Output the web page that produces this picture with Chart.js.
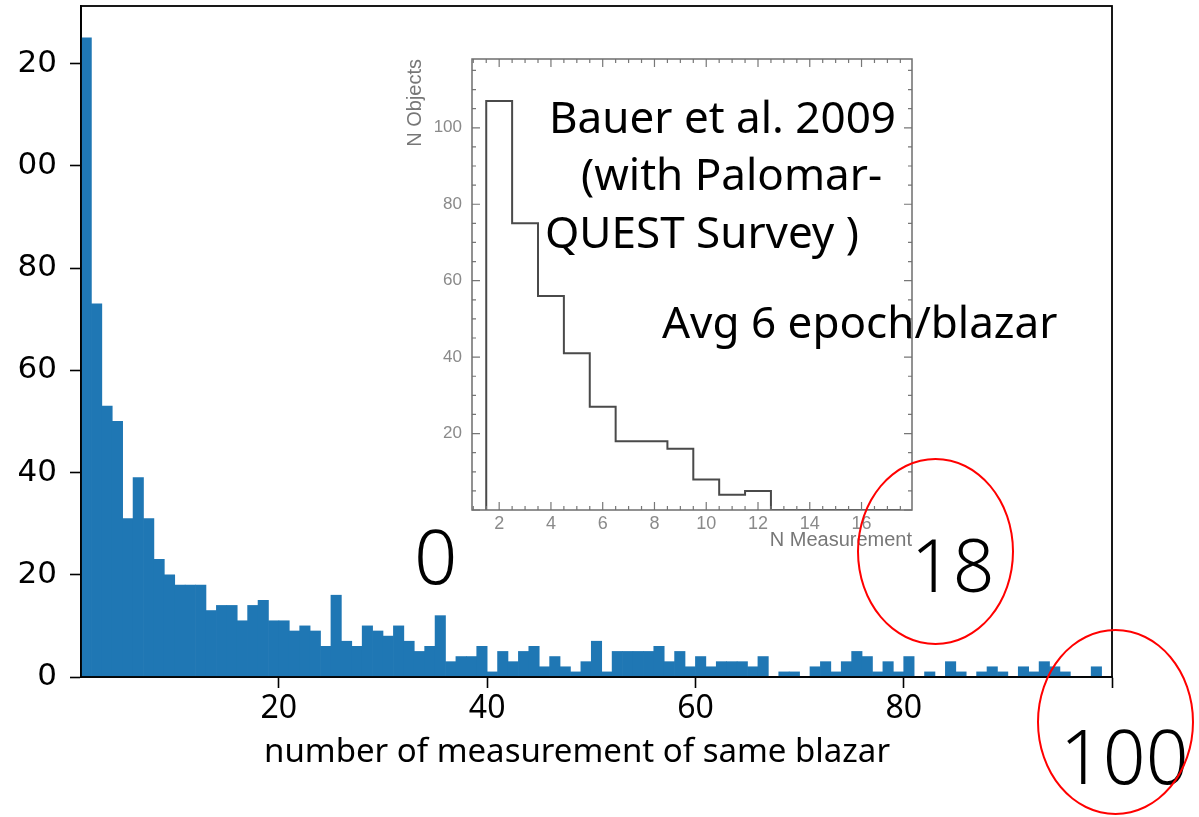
<!DOCTYPE html>
<html>
<head>
<meta charset="utf-8">
<script src="https://cdn.jsdelivr.net/npm/chart.js@4.4.1/dist/chart.umd.min.js"></script>
<style>
  html, body { margin: 0; padding: 0; background: #fff; overflow: hidden; }
  body { width: 1199px; height: 817px; position: relative; }
  #main { position: absolute; left: 18px; top: 0; }
  #inset { position: absolute; left: 400px; top: 40px; }
  .note { position: absolute; font-family: "Noto Sans", sans-serif; color: #000; white-space: pre; }
  .ring { position: absolute; border: 2px solid #f00; border-radius: 50%; box-sizing: border-box; }
</style>
</head>
<body>
<canvas id="main" width="1181" height="817"></canvas>
<canvas id="inset" width="520" height="520"></canvas>

<script>
/* --------------- main histogram: 99 bins of width 1 from 1 to 100 --------------- */
const binStart = 1;
const binWidth = 1;
const counts = [
  125, 73, 53, 50, 31, 39, 31, 23, 20, 18,
  18, 18, 13, 14, 14, 11, 14, 15, 11, 11,
  9, 10, 9, 6, 16, 7, 6, 10, 9, 8,
  10, 7, 5, 6, 12, 3, 4, 4, 6, 1,
  5, 3, 5, 6, 2, 4, 2, 1, 3, 7,
  1, 5, 5, 5, 5, 6, 3, 5, 2, 4,
  2, 3, 3, 3, 2, 4, 0, 1, 1, 0,
  2, 3, 1, 3, 5, 4, 1, 3, 1, 4,
  0, 1, 0, 3, 1, 0, 1, 2, 1, 0,
  2, 1, 3, 2, 1, 0, 0, 2, 0
];
const xTicks = [20, 40, 60, 80, 100];
const yTicks = [0, 20, 40, 60, 80, 100, 120];

/* --------------- inset (Bauer et al. 2009) --------------- */
const insetBins = [2, 3, 4, 5, 6, 7, 8, 9, 10, 11, 12, 13, 14, 15, 16, 17];
const insetCounts = [107, 75, 56, 41, 27, 18, 18, 16, 8, 4, 5, 0, 0, 0, 0, 0];
const insetXTicks = [2, 4, 6, 8, 10, 12, 14, 16];
const insetYTicks = [20, 40, 60, 80, 100];

/* --------------- annotations --------------- */
const notes = [
  { text: 'Bauer et al. 2009', x: 549, base: 133, size: 44 },
  { text: '(with Palomar-', x: 581, base: 190, size: 44 },
  { text: 'QUEST Survey )', x: 545, base: 248, size: 44 },
  { text: 'Avg 6 epoch/blazar', x: 662, base: 338, size: 44 },
  { text: '0', x: 414, base: 584, size: 76, weight: 300 },
  { text: '18', x: 911, base: 592, size: 73, weight: 300 },
  { text: '100', x: 1060, base: 785, size: 75, weight: 300 },
  { text: 'number of measurement of same blazar', x: 264, base: 762, size: 33 },
];
const rings = [
  { x: 857, y: 458, w: 157, h: 187 },
  { x: 1037, y: 629, w: 157, h: 186 },
];

// box round the plot area (matplotlib spines)
const frame = {
  id: 'frame',
  afterDraw(chart, args, o) {
    const { ctx, chartArea: a } = chart;
    ctx.save();
    ctx.strokeStyle = o.color;
    ctx.lineWidth = o.width;
    ctx.strokeRect(a.left, a.top, a.right - a.left, a.bottom - a.top);
    ctx.restore();
  }
};

// small inward ticks on all four sides of the inset
const inwardTicks = {
  id: 'inwardTicks',
  afterDraw(chart, args, o) {
    const { ctx, chartArea: a, scales: { x, y } } = chart;
    ctx.save();
    ctx.strokeStyle = o.color;
    ctx.lineWidth = 1.2;
    ctx.beginPath();
    for (let k = Math.ceil(x.min / o.xMinor); k * o.xMinor <= x.max; k++) {
      const v = k * o.xMinor;
      const px = x.getPixelForValue(v);
      const len = v % o.xMajor === 0 ? o.major : o.minor;
      ctx.moveTo(px, a.bottom); ctx.lineTo(px, a.bottom - len);
      ctx.moveTo(px, a.top); ctx.lineTo(px, a.top + len);
    }
    for (let k = Math.ceil(y.min / o.yMinor); k * o.yMinor <= y.max; k++) {
      const v = k * o.yMinor;
      const py = y.getPixelForValue(v);
      const len = v % o.yMajor === 0 ? o.major : o.minor;
      ctx.moveTo(a.left, py); ctx.lineTo(a.left + len, py);
      ctx.moveTo(a.right, py); ctx.lineTo(a.right - len, py);
    }
    ctx.stroke();
    ctx.restore();
  }
};

const fixTicks = list => scale => { scale.ticks = list.map(v => ({ value: v })); };
// fixed axis size, and no extra room kept for half-labels at the ends
const fixSize = (key, px) => scale => {
  scale[key] = px;
  scale.paddingTop = 0; scale.paddingBottom = 0;
  scale.paddingLeft = 0; scale.paddingRight = 0;
};

new Chart(document.getElementById('main'), {
  type: 'bar',
  plugins: [frame],
  data: {
    datasets: [{
      data: counts.map((c, i) => ({ x: binStart + binWidth * (i + 0.5), y: c })),
      backgroundColor: '#1f77b4',
      borderWidth: 0,
      barPercentage: 1,
      categoryPercentage: 1,
    }]
  },
  options: {
    responsive: false,
    animation: false,
    layout: { autoPadding: false, padding: { top: 6, right: 87, bottom: 47, left: 0 } },
    plugins: {
      legend: { display: false },
      tooltip: { enabled: false },
      frame: { color: '#000', width: 1.8 },
    },
    scales: {
      x: {
        type: 'linear',
        offset: false,
        min: binStart,
        max: 100,
        afterBuildTicks: fixTicks(xTicks),
        afterFit: fixSize('height', 93),
        grid: { offset: false, drawOnChartArea: false, tickLength: 11, tickWidth: 1.6, tickColor: '#000' },
        border: { color: '#000', width: 1.8 },
        ticks: {
          color: '#000', padding: 2, maxRotation: 0,
          font: { family: 'Noto Sans', size: 32 },
          callback: v => (v === 100 ? '' : v),
        },
      },
      y: {
        min: 0,
        max: 131.25,
        afterBuildTicks: fixTicks(yTicks),
        afterFit: fixSize('width', 63),
        grid: { drawOnChartArea: false, tickLength: 11, tickWidth: 1.6, tickColor: '#000' },
        border: { color: '#000', width: 1.8 },
        ticks: { color: '#000', padding: 13, font: { family: 'DejaVu Sans', size: 31 } },
      },
    },
  },
});

// step outline: each bin drawn from its left edge, closed at the right
const insetPoints = [{ x: insetBins[0] - 0.5, y: 0 }]
  .concat(insetBins.map((b, i) => ({ x: b - 0.5, y: insetCounts[i] })))
  .concat([{ x: insetBins[insetBins.length - 1] + 0.5, y: 0 }]);

new Chart(document.getElementById('inset'), {
  type: 'line',
  plugins: [inwardTicks, frame],
  data: {
    datasets: [{
      data: insetPoints,
      stepped: 'before',
      borderColor: '#4a4a4a',
      borderWidth: 2,
      pointRadius: 0,
      fill: false,
    }]
  },
  options: {
    responsive: false,
    animation: false,
    layout: { autoPadding: false, padding: { top: 19, right: 8, left: 0, bottom: 0 } },
    plugins: {
      legend: { display: false },
      tooltip: { enabled: false },
      frame: { color: '#6e6e6e', width: 1.5 },
      inwardTicks: { color: '#777', xMinor: 0.5, xMajor: 2, yMinor: 5, yMajor: 20, major: 8, minor: 4 },
    },
    scales: {
      x: {
        type: 'linear',
        min: 0.95,
        max: 17.95,
        afterBuildTicks: fixTicks(insetXTicks),
        afterFit: fixSize('height', 50),
        grid: { display: false, drawTicks: false },
        border: { display: false },
        ticks: { color: '#8a8a8a', padding: 3, maxRotation: 0, font: { family: 'Liberation Sans', size: 18 } },
        title: {
          display: true, text: 'N Measurement', align: 'end', color: '#777',
          font: { family: 'Liberation Sans', size: 20 },
          padding: { top: 0, bottom: 8 },
        },
      },
      y: {
        min: 0,
        max: 118,
        afterBuildTicks: fixTicks(insetYTicks),
        afterFit: fixSize('width', 72),
        grid: { display: false, drawTicks: false },
        border: { display: false },
        ticks: { color: '#8a8a8a', padding: 10, font: { family: 'Liberation Sans', size: 17 } },
        title: {
          display: true, text: 'N Objects', align: 'end', color: '#777',
          font: { family: 'Liberation Sans', size: 20 },
          padding: { top: 3, bottom: 0 },
        },
      },
    },
  },
});

/* --------------- text and red rings on top --------------- */
for (const n of notes) {
  const d = document.createElement('div');
  d.className = 'note';
  d.textContent = n.text;
  d.style.fontSize = n.size + 'px';
  d.style.lineHeight = n.size + 'px';
  d.style.fontWeight = n.weight || 400;
  d.style.left = n.x + 'px';
  d.style.top = (n.base - 0.888 * n.size) + 'px';
  document.body.appendChild(d);
}
for (const r of rings) {
  const d = document.createElement('div');
  d.className = 'ring';
  d.style.left = r.x + 'px';
  d.style.top = r.y + 'px';
  d.style.width = r.w + 'px';
  d.style.height = r.h + 'px';
  document.body.appendChild(d);
}
</script>
</body>
</html>
